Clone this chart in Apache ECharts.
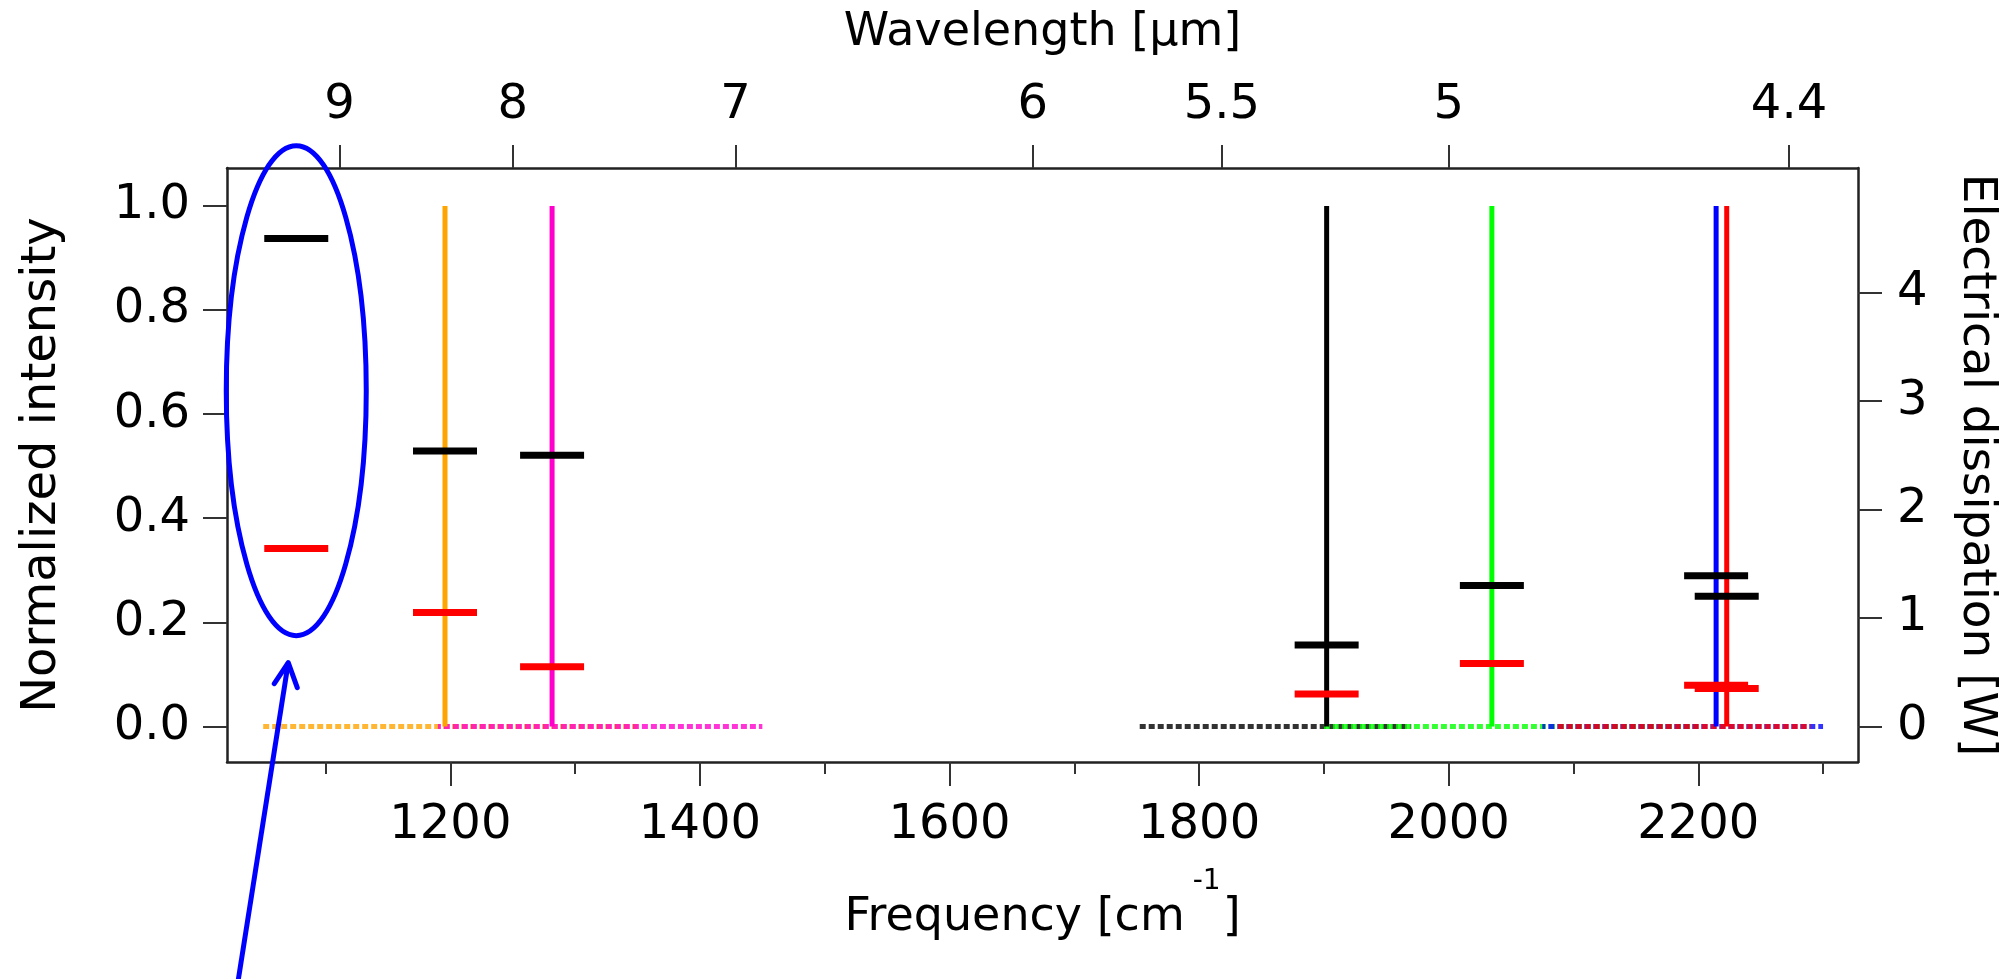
<!DOCTYPE html>
<html>
<head>
<meta charset="utf-8">
<style>
  html, body { margin: 0; padding: 0; background: #fff; }
  #chart { width: 2015px; height: 979px; }
</style>
</head>
<body>
<div id="chart"></div>
<script src="https://cdn.jsdelivr.net/npm/echarts@6/dist/echarts.min.js"></script>
<script>
// laser lines: frequency [cm-1] and normalized intensity
const laserFreq = [1195.7, 1281.5, 1902.2, 2034.6, 2214.3, 2222.8];
const laserIntensity = [1, 1, 1, 1, 1, 1];
const laserColors = ['#ffa500', '#ff00cc', '#000000', '#00ff00', '#0000ff', '#ff0000'];

// electrical dissipation markers [W]
const dissFreq = [1076.5, 1195.7, 1281.5, 1902.2, 2034.6, 2214.3, 2222.8];
const dissBlack = [4.50, 2.54, 2.50, 0.75, 1.30, 1.39, 1.20];
const dissRed = [1.64, 1.05, 0.55, 0.30, 0.58, 0.38, 0.35];

// tuning ranges drawn along the zero line (same colour order as lasers)
const rangeStart = [1050, 1190, 1750, 1900, 2075, 2085];
const rangeEnd = [1350, 1450, 1970, 2200, 2300, 2290];

// tick labels
const freqTicks = [1200, 1400, 1600, 1800, 2000, 2200];
const freqMinorTicks = [1100, 1300, 1500, 1700, 1900, 2100, 2300];
const wavelengthTicks = [9, 8, 7, 6, 5.5, 5, 4.4];
const intensityTicks = [0, 0.2, 0.4, 0.6, 0.8, 1.0];
const powerTicks = [0, 1, 2, 3, 4];

const FONT = 'DejaVu Sans';
const AXIS_COLOR = '#222';
const xMin = 1021, xMax = 2328;

const chart = echarts.init(document.getElementById('chart'));

const axisLine = { onZero: false, lineStyle: { color: AXIS_COLOR, width: 2.5 } };
const tickStyle = { color: '#333', width: 2 };
const labelStyle = { fontFamily: FONT, fontSize: 48, color: '#000' };
const nameStyle = { fontFamily: FONT, fontSize: 46, color: '#000' };

const rangeSeries = rangeStart.map((s, i) => ({
  type: 'line',
  xAxisIndex: 0,
  yAxisIndex: 0,
  data: [[s, 0], [rangeEnd[i], 0]],
  symbol: 'none',
  silent: true,
  z: 2,
  lineStyle: { color: laserColors[i], width: 5, type: [6, 3], dashOffset: i * 3, opacity: 0.8 }
}));

const laserSeries = laserFreq.map((f, i) => ({
  type: 'line',
  xAxisIndex: 0,
  yAxisIndex: 0,
  data: [[f, 0], [f, laserIntensity[i]]],
  symbol: 'none',
  silent: true,
  z: 3,
  lineStyle: { color: laserColors[i], width: 5 }
}));

const dashSeries = [
  { values: dissBlack, color: '#000000' },
  { values: dissRed, color: '#ff0000' }
].map(d => ({
  type: 'scatter',
  xAxisIndex: 0,
  yAxisIndex: 1,
  data: dissFreq.map((f, i) => [f, d.values[i]]),
  symbol: 'rect',
  symbolSize: [64, 7],
  silent: true,
  z: 5,
  itemStyle: { color: d.color, opacity: 1 }
}));

const option = {
  backgroundColor: '#fff',
  animation: false,
  grid: { left: 227, right: 157, top: 168, bottom: 217, outerBoundsMode: 'none' },
  xAxis: [
    {
      type: 'value',
      position: 'bottom',
      min: xMin,
      max: xMax,
      axisLine: axisLine,
      axisTick: { customValues: freqTicks, length: 24, lineStyle: tickStyle },
      axisLabel: Object.assign({ customValues: freqTicks, margin: 40, formatter: v => String(v) }, labelStyle),
      splitLine: { show: false },
      name: 'Frequency [cm{sup|-1}]',
      nameLocation: 'middle',
      nameGap: 106,
      nameTextStyle: Object.assign({
        lineHeight: 100,
        rich: { sup: { fontFamily: FONT, fontSize: 28, color: '#000', verticalAlign: 'top', lineHeight: 30, padding: [0, 2, 0, 8] } }
      }, nameStyle)
    },
    {
      type: 'value',
      position: 'top',
      min: xMin,
      max: xMax,
      axisLine: axisLine,
      axisTick: { customValues: wavelengthTicks.map(w => 10000 / w), length: 23, lineStyle: tickStyle },
      axisLabel: Object.assign({
        customValues: wavelengthTicks.map(w => 10000 / w),
        margin: 38,
        formatter: v => String(Math.round(100000 / v) / 10)
      }, labelStyle),
      splitLine: { show: false },
      name: 'Wavelength [μm]',
      nameLocation: 'middle',
      nameGap: 112,
      nameTextStyle: nameStyle
    },
    {
      // minor ticks of the frequency axis
      type: 'value',
      position: 'bottom',
      min: xMin,
      max: xMax,
      axisLine: { show: false, onZero: false },
      axisTick: { customValues: freqMinorTicks, length: 12, lineStyle: tickStyle },
      axisLabel: { show: false },
      splitLine: { show: false }
    }
  ],
  yAxis: [
    {
      type: 'value',
      position: 'left',
      min: -0.0684,
      max: 1.0728,
      axisLine: axisLine,
      axisTick: { customValues: intensityTicks, length: 24, lineStyle: tickStyle },
      axisLabel: Object.assign({ customValues: intensityTicks, margin: 37, formatter: v => v.toFixed(1) }, labelStyle),
      splitLine: { show: false },
      name: 'Normalized intensity',
      nameLocation: 'middle',
      nameRotate: 90,
      nameGap: 160,
      nameTextStyle: Object.assign({}, nameStyle, { fontSize: 48 })
    },
    {
      type: 'value',
      position: 'right',
      min: -0.328,
      max: 5.149,
      axisLine: axisLine,
      axisTick: { customValues: powerTicks, length: 24, lineStyle: tickStyle },
      axisLabel: Object.assign({ customValues: powerTicks, margin: 39, formatter: v => String(v) }, labelStyle),
      splitLine: { show: false },
      name: 'Electrical dissipation [W]',
      nameLocation: 'middle',
      nameRotate: -90,
      nameGap: 95,
      nameTextStyle: Object.assign({}, nameStyle, { fontSize: 47 })
    }
  ],
  series: rangeSeries.concat(laserSeries, dashSeries)
};

chart.setOption(option);

// blue annotation: ellipse round the first dissipation pair, arrow pointing at it
const c = chart.convertToPixel({ xAxisIndex: 0, yAxisIndex: 0 }, [dissFreq[0], 0.645]);
const tip = [c[0] - 8, c[1] + 272];
const blue = '#0000ff';
chart.setOption({
  graphic: [
    {
      type: 'ellipse',
      shape: { cx: c[0], cy: c[1], rx: 70, ry: 245 },
      style: { fill: 'none', stroke: blue, lineWidth: 5 },
      z: 100
    },
    {
      type: 'polyline',
      shape: { points: [[tip[0] - 52, tip[1] + 330], tip] },
      style: { fill: 'none', stroke: blue, lineWidth: 5 },
      z: 100
    },
    {
      type: 'polyline',
      shape: { points: [[tip[0] - 14, tip[1] + 21], tip, [tip[0] + 9, tip[1] + 25]] },
      style: { fill: 'none', stroke: blue, lineWidth: 5, lineCap: 'round', lineJoin: 'round' },
      z: 100
    }
  ]
});

window.addEventListener('resize', () => chart.resize());
</script>
</body>
</html>
